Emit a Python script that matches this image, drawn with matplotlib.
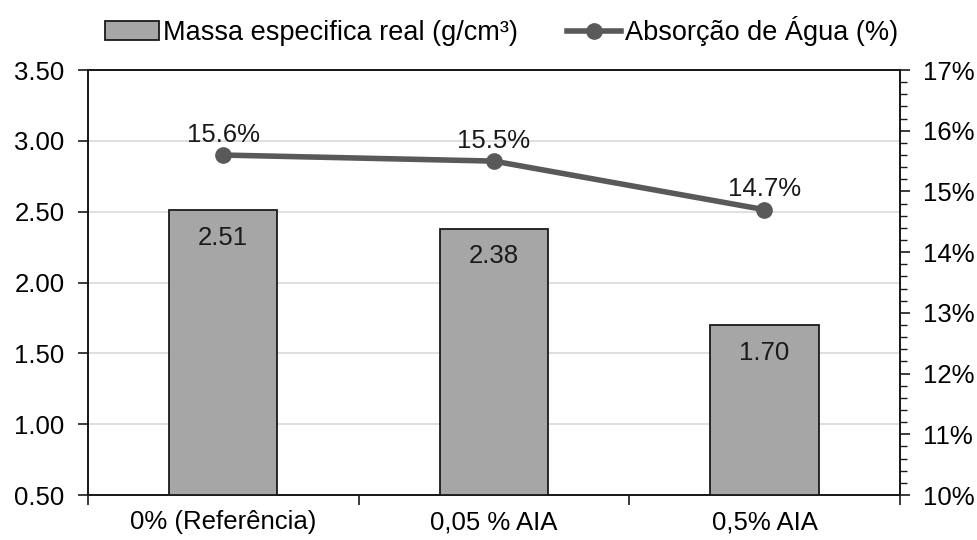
import matplotlib
matplotlib.use("Agg")
import matplotlib.pyplot as plt
from matplotlib.ticker import MultipleLocator, FuncFormatter
import numpy as np

plt.rcParams['font.family'] = ['Liberation Sans', 'DejaVu Sans']

categories = ["0% (Referência)", "0,05 % AIA", "0,5% AIA"]
massa = [2.51, 2.38, 1.70]
absorcao = [15.6, 15.5, 14.7]
massa_labels = ["2.51", "2.38", "1.70"]
absorcao_labels = ["15.6%", "15.5%", "14.7%"]

FS = 18.5

fig = plt.figure(figsize=(9.78, 5.40), dpi=100)
ax = fig.add_axes([0.090, 0.0833, 0.830, 0.787])
x = np.arange(len(categories))

bars = ax.bar(x, massa, width=0.40, bottom=0, color='#a6a6a6', edgecolor='#1a1a1a',
              linewidth=1.3, zorder=3, label='Massa especifica real (g/cm³)')
ax.set_ylim(0.5, 3.5)
ax.set_xlim(-0.5, 2.5)
ax.yaxis.set_major_locator(MultipleLocator(0.5))
ax.yaxis.set_major_formatter(FuncFormatter(lambda v, p: f"{v:.2f}"))
ax.grid(axis='y', color='#d9d9d9', linewidth=1.2, zorder=0)
ax.set_axisbelow(True)
ax.set_xticks(x)
ax.set_xticklabels(categories)
ax.set_xticks([-0.5, 0.5, 1.5, 2.5], minor=True)
ax.tick_params(axis='x', which='major', length=0, pad=11, labelsize=FS)
ax.tick_params(axis='x', which='minor', length=7, width=1.2, color='#1a1a1a')
ax.tick_params(axis='y', which='major', length=7, width=1.2, labelsize=FS, pad=10, color='#1a1a1a')
for s in ['left', 'bottom', 'top', 'right']:
    ax.spines[s].set_color('#1a1a1a')
    ax.spines[s].set_linewidth(1.3)

for xi, v, lab in zip(x, massa, massa_labels):
    ax.text(xi, v - 0.11, lab, ha='center', va='top', fontsize=FS, color='#1a1a1a', zorder=5)

ax2 = ax.twinx()
ax2.set_ylim(10, 17)
ln, = ax2.plot(x, absorcao, color='#595959', linewidth=4, marker='o', markersize=11,
               zorder=4, label='Absorção de Água (%)')
ax2.yaxis.set_major_locator(MultipleLocator(1))
ax2.yaxis.set_minor_locator(MultipleLocator(0.2))
ax2.yaxis.set_major_formatter(FuncFormatter(lambda v, p: f"{v:.0f}%"))
ax2.tick_params(axis='y', which='major', length=7, width=1.2, labelsize=FS, pad=10, color='#1a1a1a')
ax2.tick_params(axis='y', which='minor', length=5, width=1.0, color='#1a1a1a')
for s in ['left', 'bottom', 'top', 'right']:
    ax2.spines[s].set_color('#1a1a1a')
    ax2.spines[s].set_linewidth(1.3)

for xi, v, lab in zip(x, absorcao, absorcao_labels):
    ax2.text(xi, v + 0.14, lab, ha='center', va='bottom', fontsize=FS, color='#1a1a1a', zorder=5)

fig.legend(handles=[bars, ln], loc='upper center', bbox_to_anchor=(0.513, 1.015), ncol=2,
           frameon=False, fontsize=19.5, handlelength=2.0, handletextpad=0.15,
           columnspacing=1.8)

fig.savefig("out.png", dpi=100)
